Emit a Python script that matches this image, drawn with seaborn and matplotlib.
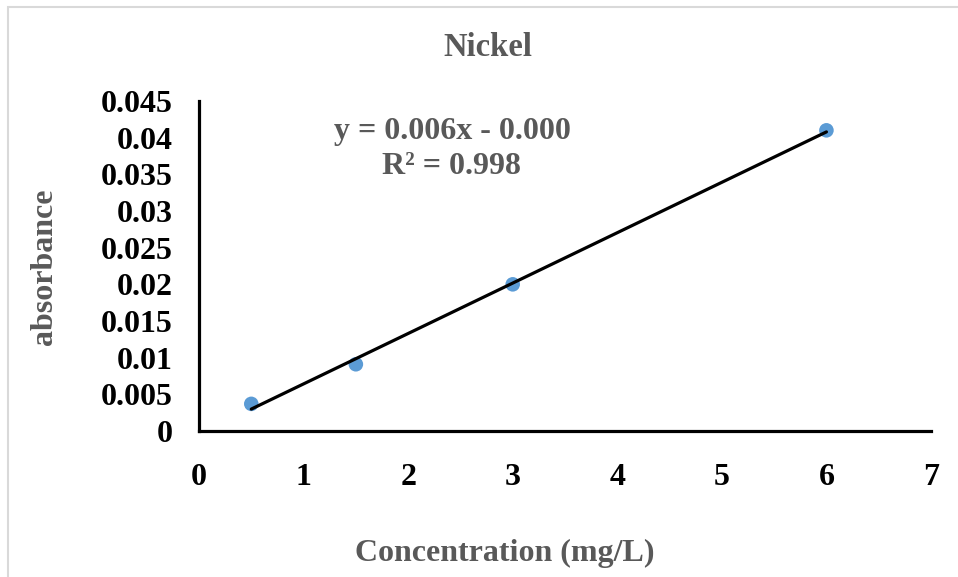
import numpy as np
import pandas as pd
import seaborn as sns
import matplotlib.pyplot as plt
from matplotlib.patches import Rectangle

# data
concentration = [0.5, 1.5, 3.0, 6.0]
absorbance = [0.0037, 0.0091, 0.0200, 0.0410]
x_ticks = [0, 1, 2, 3, 4, 5, 6, 7]
y_ticks = [0, 0.005, 0.01, 0.015, 0.02, 0.025, 0.03, 0.035, 0.04, 0.045]
y_tick_labels = ["0", "0.005", "0.01", "0.015", "0.02", "0.025", "0.03", "0.035", "0.04", "0.045"]
equation_text = "y = 0.006x - 0.000\nR² = 0.998"

df = pd.DataFrame({"conc": concentration, "abs": absorbance})

sns.set_style("white")
plt.rcParams["font.family"] = ["Liberation Serif", "DejaVu Serif"]
plt.rcParams["font.weight"] = "bold"

grey = "#595959"

fig = plt.figure(figsize=(9.58, 5.77), dpi=100)
ax = fig.add_axes([199 / 958, 1 - 431 / 577, (931 - 199) / 958, (431 - 101) / 577])

sns.scatterplot(data=df, x="conc", y="abs", ax=ax, s=110, color="#5B9BD5",
                edgecolor="none", zorder=2)
sns.regplot(data=df, x="conc", y="abs", ax=ax, scatter=False, ci=None, truncate=True,
            line_kws={"color": "black", "lw": 2.3, "zorder": 3})

ax.set_xlim(0, 7)
ax.set_ylim(0, 0.045)
ax.set_xticks(x_ticks)
ax.set_yticks(y_ticks)
ax.set_yticklabels(y_tick_labels)
ax.tick_params(axis="both", length=0, labelsize=23, colors="black")
ax.tick_params(axis="x", pad=23)
ax.tick_params(axis="y", pad=19)
for lab in ax.get_xticklabels() + ax.get_yticklabels():
    lab.set_fontweight("bold")

for side in ["top", "right"]:
    ax.spines[side].set_visible(False)
for side in ["left", "bottom"]:
    ax.spines[side].set_color("black")
    ax.spines[side].set_linewidth(2.3)

ax.set_xlabel("")
ax.set_ylabel("")

fig.text(488 / 958, 1 - 48 / 577, "Nickel", ha="center", va="center",
         fontsize=23.5, fontweight="bold", color=grey)
fig.text(505 / 958, 1 - 553 / 577, "Concentration (mg/L)", ha="center", va="center",
         fontsize=23, fontweight="bold", color=grey)
fig.text(45 / 958, 1 - 267 / 577, "absorbance", ha="center", va="center", rotation=90,
         fontsize=23, fontweight="bold", color=grey)
fig.text(452 / 958, 1 - 149 / 577, equation_text, ha="center", va="center",
         fontsize=23, fontweight="bold", color=grey, linespacing=1.27)

# chart-area border (cropped on the right/bottom)
fig.patches.append(Rectangle((8 / 958, -0.1), 1.2, 1 - 7 / 577 + 0.1, transform=fig.transFigure,
                             fill=False, edgecolor="#d9d9d9", lw=1.5))

fig.savefig("out.png", dpi=100)
